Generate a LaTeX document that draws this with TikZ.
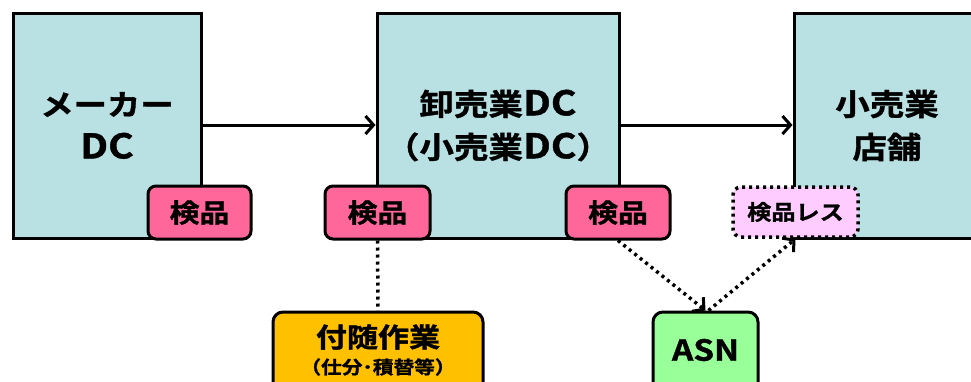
\documentclass[tikz,border=0pt]{standalone}
\usepackage{fontspec}
\setmainfont{Noto Sans CJK JP Bold}[FakeStretch=1.15, FakeBold=1.2]
\usetikzlibrary{arrows.meta}
\definecolor{boxfill}{HTML}{B9E0E2}
\definecolor{badgepink}{HTML}{FF6699}
\definecolor{lightpink}{HTML}{FFCCFF}
\definecolor{yellowbox}{HTML}{FFC000}
\definecolor{greenbox}{HTML}{99FF99}
\newcommand\biglat[1]{{\fontsize{34}{43}\selectfont #1}}
\tikzset{
  dcbox/.style={draw=black, line width=3pt, fill=boxfill, inner sep=0pt, align=center,
    font=\fontsize{30}{43}\selectfont},
  badge/.style={draw=black, line width=3pt, rounded corners=8pt, inner sep=0pt,
    minimum height=53pt, font=\fontsize{26}{30}\selectfont},
  roundbox/.style={draw=black, line width=3pt, rounded corners=10pt, inner sep=0pt},
  flow/.style={line width=3pt, -{Straight Barb[length=8pt,width=18pt,line width=3pt]}},
  dotline/.style={line width=3.5pt, dash pattern=on 3pt off 4pt},
  dotarrow/.style={dotline, -{Straight Barb[length=8pt,width=18pt,line width=3pt]}},
}
\begin{document}
\begin{tikzpicture}[x=1pt,y=-1pt]
\useasboundingbox (0,0) rectangle (971,381);
% main boxes
\node[dcbox, minimum width=188pt, minimum height=225pt] (maker) at (107,125.5) {\fontsize{29}{43}\selectfont メーカー\\\biglat{DC}};
\node[dcbox, minimum width=242pt, minimum height=225pt] (whole) at (498,125.5) {卸売業\biglat{DC}\\（小売業\biglat{DC}）};
\node[dcbox, minimum width=186pt, minimum height=225pt, text width=186pt] (retail) at (887,125.5) {小売業\\店舗};
% flow arrows
\draw[flow] (maker.east |- 0,125) -- (whole.west |- 0,125);
\draw[flow] (whole.east |- 0,125) -- (retail.west |- 0,125);
% badges
\node[badge, fill=badgepink, minimum width=103pt] (b1) at (199.5,212.5) {検品};
\node[badge, fill=badgepink, minimum width=105pt] (b2) at (377.5,212.5) {検品};
\node[badge, fill=badgepink, minimum width=104pt] (b3) at (618,212.5) {検品};
\node[badge, fill=lightpink, minimum width=125pt, minimum height=50pt, dotline,
  font=\fontsize{21}{25}\selectfont] (b4) at (795.5,212) {検品レス};
% lower boxes
\node[roundbox, fill=yellowbox, minimum width=210pt, minimum height=100pt] (extra) at (378,362) {};
\node[font=\fontsize{27}{30}\selectfont, inner sep=0pt] (extratitle) at (378,337) {付随作業};
\node[font=\fontsize{18}{20}\selectfont, inner sep=0pt] (extrasub) at (378,367) {（仕分･積替等）};
\node[roundbox, fill=greenbox, minimum width=105pt, minimum height=100pt] (asn) at (705.5,362) {};
\node[font=\fontsize{29}{30}\selectfont, inner sep=0pt] (asntext) at (705.5,350) {ASN};
% dotted connectors
\draw[dotline] (b2.south) -- (extra.north);
\draw[dotarrow] (b3.south) -- (asn.north);
\draw[dotarrow] ([xshift=3pt]asn.north) -- (b4.south);
\end{tikzpicture}
\end{document}
